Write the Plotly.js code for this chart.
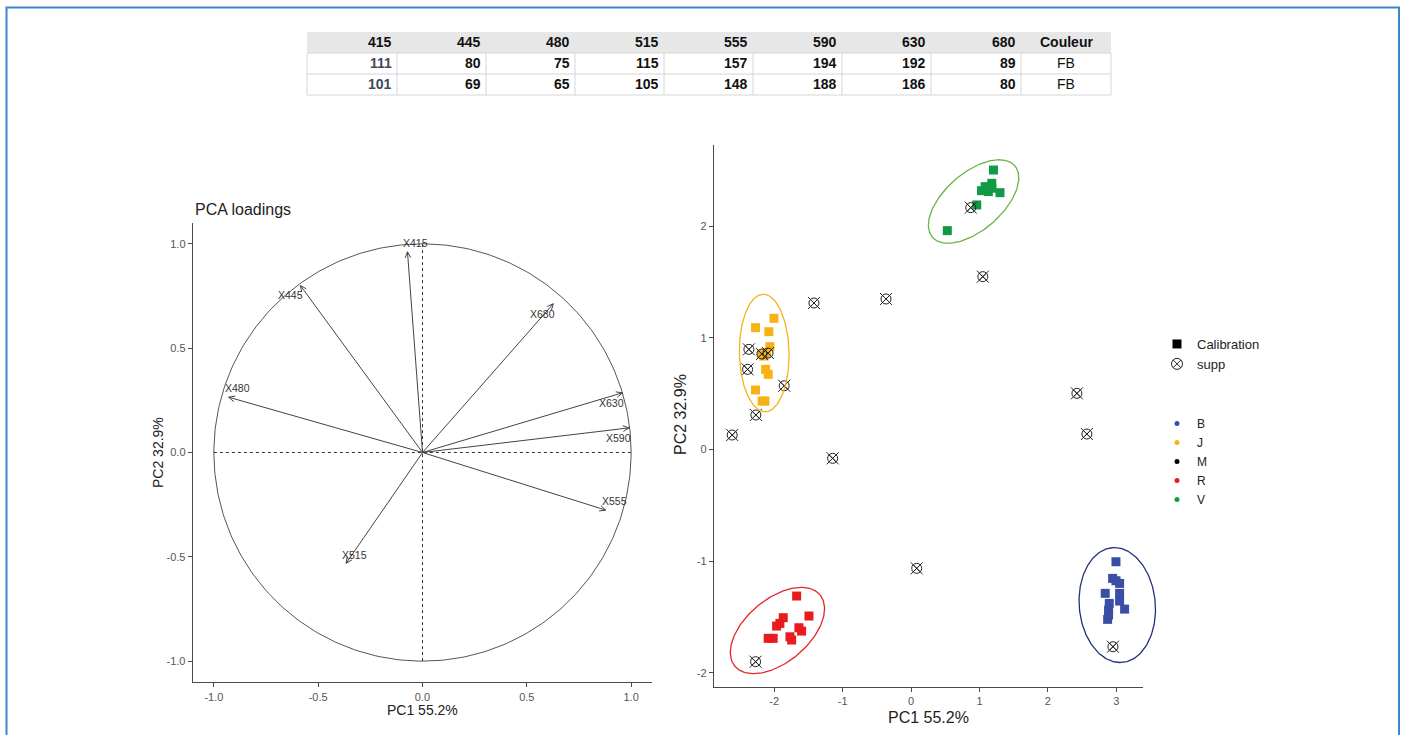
<!DOCTYPE html>
<html>
<head>
<meta charset="utf-8">
<script src="https://cdn.plot.ly/plotly-3.0.1.min.js"></script>
<style>html,body{margin:0;padding:0;background:#fff;} #chart{width:1405px;height:735px;}</style>
</head>
<body>
<div id="chart"></div>
<script>
// ---------- DATA ----------
// Table
const tableHeader = ['415','445','480','515','555','590','630','680','Couleur'];
const tableRow1   = ['111','80','75','115','157','194','192','89','FB'];
const tableRow2   = ['101','69','65','105','148','188','186','80','FB'];

// PCA loadings (correlation circle)
const varNames  = ['X415','X445','X480','X515','X555','X590','X630','X680'];
const pc1Load   = [-0.072, -0.585, -0.929, -0.366, 0.878, 0.990, 0.958, 0.627];
const pc2Load   = [ 0.962,  0.800,  0.265, -0.531, -0.276, 0.118, 0.286, 0.713];
const labelSide = ['ne','sw','ne','ne','ne','sw','sw','sw'];
const loadTicks = [-1, -0.5, 0, 0.5, 1];
const loadTickText = ['-1.0','-0.5','0.0','0.5','1.0'];

// PCA scores – calibration samples by colour group
const groups = ['B','J','M','R','V'];
const bX = [2.995, 2.946, 2.995, 3.048, 2.838, 3.048, 2.897, 3.048, 3.121, 2.887, 2.887, 2.873];
const bY = [-1.005, -1.154, -1.175, -1.199, -1.288, -1.288, -1.378, -1.357, -1.429, -1.438, -1.482, -1.521];
const jX = [-2.004, -2.273, -2.078, -2.063, -2.185, -2.110, -2.150, -2.126, -2.088, -2.273, -2.176, -2.136];
const jY = [1.175, 1.091, 1.055, 0.921, 0.855, 0.867, 0.837, 0.718, 0.673, 0.533, 0.434, 0.434];
const rX = [-1.672, -1.492, -1.868, -1.917, -1.965, -1.639, -1.600, -1.770, -1.745, -2.015, -2.088];
const rY = [-1.312, -1.491, -1.506, -1.557, -1.581, -1.596, -1.626, -1.677, -1.706, -1.691, -1.691];
const vX = [1.205, 1.180, 1.083, 1.030, 1.130, 1.300, 1.180, 0.960, 0.530];
const vY = [2.503, 2.384, 2.354, 2.318, 2.310, 2.300, 2.340, 2.190, 1.960];
// supplementary samples
const sX = [0.873, 1.049, -0.366, -1.419, -2.370, -2.180, -2.090, -2.389, -1.854, -2.268, -2.614, 2.424, 2.570, -1.146, 0.083, -2.272, 2.951];
const sY = [2.166, 1.548, 1.348, 1.312, 0.897, 0.855, 0.864, 0.718, 0.571, 0.309, 0.130, 0.503, 0.139, -0.079, -1.064, -1.900, -1.766];
// confidence ellipses (B, J, R, V): centre, semi-axes (x-units), angle (deg, screen)
const ellGroups = ['B','J','R','V'];
const ellCx = [3.014, -2.146, -1.953, 0.914];
const ellCy = [-1.393, 0.864, -1.621, 2.221];
const ellA  = [0.841, 0.859, 0.812, 0.797];
const ellB  = [0.556, 0.363, 0.461, 0.417];
const ellAng = [95, 91, 40, 41];
const scoreXTicks = [-2, -1, 0, 1, 2, 3];
const scoreYTicks = [-2, -1, 0, 1, 2];

// ---------- STYLE / LAYOUT CONSTANTS ----------
const W = 1405, H = 735;
const FONT = 'Liberation Sans, Arial, sans-serif';
const TFONT = 'Liberation Sans, Arial, sans-serif';
const fillCol = {B:'#3a4fa3', J:'#f9b215', M:'#000000', R:'#e81c1f', V:'#119a45'};
const ellCol  = {B:'#24317a', J:'#f7b21c', R:'#ea2326', V:'#6ab443'};
const axCol = '#4a4a4a';
const tickFont = {family: FONT, size: 11, color: '#555'};

const lx = [193/W, 652/W], ly = [1-682/H, 1-223/H];
const rx = [714/W, 1143/W], ry = [1-686.7/H, 1-145/H];
const lxr = [-1.1, 1.1], lyr = [-1.1, 1.1];
const rxr = [-2.88, 3.39], ryr = [-2.124, 2.727];
// hidden overlay subplot (same scale as right plot, wider) so ellipses are not clipped
const ex3 = [714/W, 1175/W];
const xPxPerUnit = (rx[1]-rx[0]) * W / (rxr[1]-rxr[0]);
const yPxPerUnit = (ry[1]-ry[0]) * H / (ryr[1]-ryr[0]);
const x3r = [rxr[0], rxr[0] + (ex3[1]-ex3[0]) * W / xPxPerUnit];

const traces = [];
const shapes = [];
const annotations = [];

// ---------- TABLE (drawn with shapes + text) ----------
const colEdges = [307, 397, 486, 575, 664, 753, 842, 931, 1021, 1111];
const rowEdges = [32, 53, 74, 95];
const px = v => v / W, py = v => 1 - v / H;
shapes.push({type: 'rect', xref: 'paper', yref: 'paper', x0: px(colEdges[0]), x1: px(colEdges[colEdges.length-1]),
  y0: py(rowEdges[1]), y1: py(rowEdges[0]), fillcolor: '#e7e7e7', line: {width: 0}});
shapes.push({type: 'rect', xref: 'paper', yref: 'paper', x0: px(colEdges[0]), x1: px(colEdges[colEdges.length-1]),
  y0: py(rowEdges[3]), y1: py(rowEdges[1]), fillcolor: 'rgba(0,0,0,0)', line: {color: '#d6d6d6', width: 1}});
shapes.push({type: 'line', xref: 'paper', yref: 'paper', x0: px(colEdges[0]), x1: px(colEdges[colEdges.length-1]),
  y0: py(rowEdges[2]), y1: py(rowEdges[2]), line: {color: '#d6d6d6', width: 1}});
for (let c = 1; c < colEdges.length - 1; c++) {
  shapes.push({type: 'line', xref: 'paper', yref: 'paper', x0: px(colEdges[c]), x1: px(colEdges[c]),
    y0: py(rowEdges[3]), y1: py(rowEdges[1]), line: {color: '#d6d6d6', width: 1}});
}
[tableHeader, tableRow1, tableRow2].forEach((row, r) => {
  row.forEach((val, c) => {
    const last = c === row.length - 1;
    annotations.push({xref: 'paper', yref: 'paper',
      x: last ? px((colEdges[c] + colEdges[c+1]) / 2) : px(colEdges[c+1] - 3),
      xanchor: last ? 'center' : 'right',
      y: py((rowEdges[r] + rowEdges[r+1]) / 2), yanchor: 'middle',
      text: (last && r > 0) ? val : '<b>' + val + '</b>', showarrow: false,
      font: {family: TFONT, size: 14, color: (c === 0 && r > 0) ? '#3e4a5a' : '#111'}});
  });
});

// ---------- LEFT: correlation circle ----------
const circX = [], circY = [];
for (let i = 0; i <= 360; i++) { const t = i * Math.PI / 180; circX.push(Math.cos(t)); circY.push(Math.sin(t)); }
traces.push({x: circX, y: circY, xaxis: 'x', yaxis: 'y', mode: 'lines', type: 'scatter',
  line: {color: '#555', width: 1}, hoverinfo: 'skip', showlegend: false});
traces.push({x: [-1, 1], y: [0, 0], xaxis: 'x', yaxis: 'y', mode: 'lines', type: 'scatter',
  line: {color: '#333', width: 1, dash: '3px,3px'}, hoverinfo: 'skip', showlegend: false});
traces.push({x: [0, 0], y: [-1, 1], xaxis: 'x', yaxis: 'y', mode: 'lines', type: 'scatter',
  line: {color: '#333', width: 1, dash: '3px,3px'}, hoverinfo: 'skip', showlegend: false});

const arrX = [], arrY = [];
const headLen = 0.032, headAng = 25 * Math.PI / 180;
for (let i = 0; i < varNames.length; i++) {
  const x = pc1Load[i], y = pc2Load[i];
  const a = Math.atan2(y, x);
  arrX.push(0, x, null); arrY.push(0, y, null);
  arrX.push(x + headLen * Math.cos(a + Math.PI - headAng), x, x + headLen * Math.cos(a + Math.PI + headAng), null);
  arrY.push(y + headLen * Math.sin(a + Math.PI - headAng), y, y + headLen * Math.sin(a + Math.PI + headAng), null);
}
traces.push({x: arrX, y: arrY, xaxis: 'x', yaxis: 'y', mode: 'lines', type: 'scatter',
  line: {color: '#444', width: 1}, hoverinfo: 'skip', showlegend: false});

// ---------- RIGHT: score plot ----------
const k = yPxPerUnit / xPxPerUnit;
for (let e = 0; e < ellGroups.length; e++) {
  const ex = [], ey = [];
  const th = ellAng[e] * Math.PI / 180;
  for (let i = 0; i <= 200; i++) {
    const t = 2 * Math.PI * i / 200;
    const u = ellA[e] * Math.cos(t) * Math.cos(th) - ellB[e] * Math.sin(t) * Math.sin(th);
    const v = ellA[e] * Math.cos(t) * Math.sin(th) + ellB[e] * Math.sin(t) * Math.cos(th);
    ex.push(ellCx[e] + u); ey.push(ellCy[e] + v / k);
  }
  traces.push({x: ex, y: ey, xaxis: 'x3', yaxis: 'y3', mode: 'lines', type: 'scatter',
    line: {color: ellCol[ellGroups[e]], width: 1.3}, hoverinfo: 'skip', showlegend: false});
}
const calib = {B: [bX, bY], J: [jX, jY], R: [rX, rY], V: [vX, vY]};
Object.keys(calib).forEach(g => {
  traces.push({x: calib[g][0], y: calib[g][1], xaxis: 'x2', yaxis: 'y2', mode: 'markers', type: 'scatter',
    marker: {symbol: 'square', size: 9, color: fillCol[g]}, name: g, showlegend: false, cliponaxis: false});
});
traces.push({x: sX, y: sY, xaxis: 'x2', yaxis: 'y2', mode: 'markers', type: 'scatter',
  marker: {symbol: 'circle-x-open', size: 10, color: '#222', line: {width: 1, color: '#222'}},
  name: 'supp', showlegend: false, cliponaxis: false});
traces.push({x: sX, y: sY, xaxis: 'x2', yaxis: 'y2', mode: 'markers', type: 'scatter',
  marker: {symbol: 'x-thin-open', size: 12, color: '#222', line: {width: 1, color: '#222'}},
  name: 'supp', showlegend: false, hoverinfo: 'skip', cliponaxis: false});

// legend-only entries
traces.push({x: [null], y: [null], xaxis: 'x2', yaxis: 'y2', mode: 'markers', type: 'scatter', name: 'Calibration',
  marker: {symbol: 'square', size: 9, color: '#000'}, legend: 'legend'});
traces.push({x: [null], y: [null], xaxis: 'x2', yaxis: 'y2', mode: 'markers', type: 'scatter', name: 'supp',
  marker: {symbol: 'circle-x-open', size: 11, color: '#222', line: {width: 1}}, legend: 'legend'});
groups.forEach(g => {
  traces.push({x: [null], y: [null], xaxis: 'x2', yaxis: 'y2', mode: 'markers', type: 'scatter', name: g,
    marker: {symbol: 'circle', size: 5, color: fillCol[g]}, legend: 'legend2'});
});

// ---------- annotations ----------
const nudge = {ne: [0.04, 0.042], sw: [-0.05, -0.047]};
for (let i = 0; i < varNames.length; i++) {
  const n = nudge[labelSide[i]];
  annotations.push({x: pc1Load[i] + n[0], y: pc2Load[i] + n[1], xref: 'x', yref: 'y', text: varNames[i],
    showarrow: false, font: {family: FONT, size: 10.5, color: '#333'}});
}
annotations.push({x: 193/W, y: 1-209/H, xref: 'paper', yref: 'paper', xanchor: 'left', yanchor: 'middle',
  text: 'PCA loadings', showarrow: false, font: {family: FONT, size: 16, color: '#222'}});
annotations.push({x: 422/W, y: 1-710/H, xref: 'paper', yref: 'paper', xanchor: 'center', yanchor: 'middle',
  text: 'PC1 55.2%', showarrow: false, font: {family: FONT, size: 14, color: '#222'}});
annotations.push({x: 158/W, y: 1-453/H, xref: 'paper', yref: 'paper', xanchor: 'center', yanchor: 'middle',
  text: 'PC2 32.9%', textangle: -90, showarrow: false, font: {family: FONT, size: 14, color: '#222'}});
annotations.push({x: 928/W, y: 1-717/H, xref: 'paper', yref: 'paper', xanchor: 'center', yanchor: 'middle',
  text: 'PC1 55.2%', showarrow: false, font: {family: FONT, size: 16, color: '#222'}});
annotations.push({x: 681/W, y: 1-415/H, xref: 'paper', yref: 'paper', xanchor: 'center', yanchor: 'middle',
  text: 'PC2 32.9%', textangle: -90, showarrow: false, font: {family: FONT, size: 16, color: '#222'}});

function axis(domain, range, tv, tt, anchor) {
  return {domain: domain, range: range, anchor: anchor, showgrid: false, zeroline: false,
    showline: true, linecolor: axCol, linewidth: 1.3, ticks: 'outside', ticklen: 4, tickwidth: 1,
    tickcolor: axCol, tickvals: tv, ticktext: tt, tickfont: tickFont, fixedrange: true};
}

shapes.push({type: 'rect', xref: 'paper', yref: 'paper', x0: 6.5/W, x1: 1399/W, y0: -0.05, y1: 1-7.5/H,
  line: {color: '#3f84cf', width: 2}, fillcolor: 'rgba(0,0,0,0)', layer: 'below'});

const layout = {
  width: W, height: H,
  margin: {l: 0, r: 0, t: 0, b: 0},
  paper_bgcolor: '#fff', plot_bgcolor: 'rgba(0,0,0,0)',
  font: {family: FONT},
  xaxis:  axis(lx, lxr, loadTicks, loadTickText, 'y'),
  yaxis:  axis(ly, lyr, loadTicks, loadTickText, 'x'),
  xaxis2: axis(rx, rxr, scoreXTicks, scoreXTicks.map(String), 'y2'),
  yaxis2: axis(ry, ryr, scoreYTicks, scoreYTicks.map(String), 'x2'),
  xaxis3: {domain: ex3, range: x3r, anchor: 'y3', visible: false, fixedrange: true},
  yaxis3: {domain: ry, range: ryr, anchor: 'x3', visible: false, fixedrange: true},
  legend:  {x: 1157/W, y: 1-329/H, xanchor: 'left', yanchor: 'top', bgcolor: 'rgba(0,0,0,0)',
            font: {family: FONT, size: 13, color: '#222'}, tracegroupgap: 0},
  legend2: {x: 1157/W, y: 1-409/H, xanchor: 'left', yanchor: 'top', bgcolor: 'rgba(0,0,0,0)',
            font: {family: FONT, size: 12, color: '#222'}, tracegroupgap: 0},
  annotations: annotations,
  shapes: shapes,
  showlegend: true
};

Plotly.newPlot('chart', traces, layout, {displayModeBar: false, staticPlot: true});
</script>
</body>
</html>
